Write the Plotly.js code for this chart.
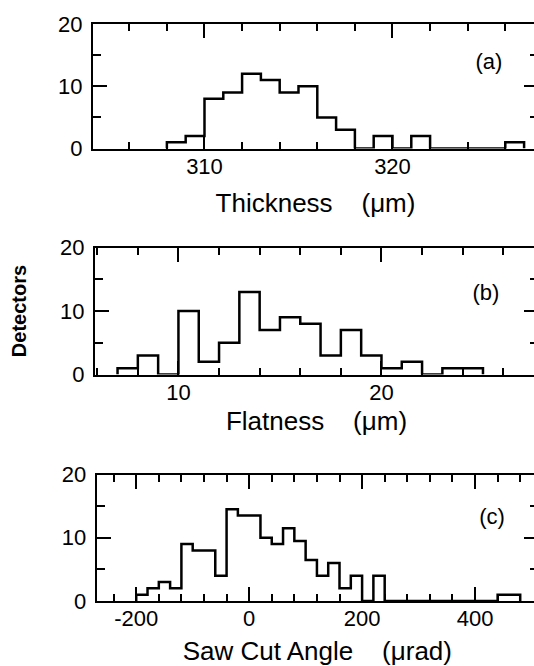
<!DOCTYPE html>
<html>
<head>
<meta charset="utf-8">
<script src="https://cdn.plot.ly/plotly-3.0.1.min.js"></script>
<style>
html,body{margin:0;padding:0;overflow:hidden;background:#fff;}
.panel{position:absolute;left:0;width:540px;height:222px;}
#pa{top:0;} #pb{top:222px;} #pc{top:444px;}
</style>
</head>
<body>
<div id="pa" class="panel"></div>
<div id="pb" class="panel"></div>
<div id="pc" class="panel"></div>
<script>
// ---- data ----
// (a) Thickness (um), bin width 1
const thicknessBins   = [308,309,310,311,312,313,314,315,316,317,318,319,320,321,322,323,324,325,326];
const thicknessCounts = [1,2,8,9,12,11,9,10,5,3,0,2,0,2,0,0,0,0,1];
const thicknessWidth  = 1;
// (b) Flatness (um), bin width 1
const flatnessBins   = [7,8,9,10,11,12,13,14,15,16,17,18,19,20,21,22,23,24];
const flatnessCounts = [1,3,0,10,2,5,13,7,9,8,3,7,3,1,2,0,1,1];
const flatnessWidth  = 1;
// (c) Saw cut angle (urad), bin width 20
const angleBins   = [-200,-180,-160,-140,-120,-100,-80,-60,-40,-20,0,20,40,60,80,100,120,140,160,180,200,220,240,260,280,300,320,340,360,380,400,420,440,460];
const angleCounts = [1,2,3,2,9,8,8,4,14.5,13.5,13.5,10,9,11.5,9.5,6.5,4,6,2,4,0,4,0,0,0,0,0,0,0,0,0,0,1,1];
const angleWidth  = 20;

// tick labels for the angle axis (hyphen minus, as in the reference)
const angleTickVals = [-200,0,200,400];
const angleTickText = ['-200','0','200','400'];

const panelLabels = ['(a)','(b)','(c)'];
const xTitles = ['Thickness\u00A0\u00A0\u00A0\u00A0(\u03BCm)','Flatness\u00A0\u00A0\u00A0\u00A0(\u03BCm)','Saw Cut Angle\u00A0\u00A0\u00A0\u00A0(\u03BCrad)'];
const yTitle = 'Detectors';

// ---- helpers ----
function stepXY(bins, counts, w){
  const xs=[bins[0]], ys=[0];
  for(let i=0;i<bins.length;i++){ xs.push(bins[i]); ys.push(counts[i]); }
  xs.push(bins[bins.length-1]+w); ys.push(0);
  return {xs, ys};
}
const W=540, PH=222, RIGHT=538;

function drawPanel(divId, top, bins, counts, w, cfg){
  const s = stepXY(bins, counts, w);
  const py = p => 1 - (p - top)/PH;           // page pixel -> paper fraction of this panel
  const xaxis = Object.assign({
    domain:[cfg.left/W, RIGHT/W], range:cfg.range, anchor:'y',
    dtick:cfg.dtick, tick0:0,
    showline:true, linewidth:2, linecolor:'#000', mirror:'ticks',
    ticks:'inside', ticklen:14, tickwidth:1.5, tickcolor:'#000',
    minor:{tickmode:'linear', dtick:cfg.minor, tick0:0, ticks:'inside', ticklen:7, tickwidth:1.5, tickcolor:'#000'},
    showgrid:false, zeroline:false,
    ticklabelstandoff:-3,
    title:{text:cfg.title, standoff:cfg.titleStandoff}
  }, cfg.xextra||{});
  const yaxis = {
    domain:[py(cfg.bottom), py(cfg.top)], range:[0,20], anchor:'x', dtick:10, tick0:0,
    showline:true, linewidth:2, linecolor:'#000', mirror:'ticks',
    ticks:'inside', ticklen:14, tickwidth:1.5, tickcolor:'#000',
    minor:{tickmode:'linear', dtick:5, tick0:0, ticks:'inside', ticklen:8, tickwidth:1.5, tickcolor:'#000'},
    showgrid:false, zeroline:false,
    ticklabelstandoff:4
  };
  if(cfg.ytitle){
    yaxis.title = {text:cfg.ytitle, standoff:28, font:{size:20, weight:'bold', color:'#000'}};
  }
  const layout = {
    width:W, height:PH, margin:{l:0,r:0,t:0,b:0}, showlegend:false,
    font:{family:'Liberation Sans, Arial, Helvetica, sans-serif', size:22, color:'#000'},
    title:{text:cfg.label, xref:'paper', yref:'paper', x:cfg.labelPos[0]/W, y:py(cfg.labelPos[1]),
           xanchor:'center', yanchor:'middle', font:{size:22, color:'#000'}},
    xaxis, yaxis
  };
  const trace = {x:s.xs, y:s.ys, mode:'lines', line:{color:'#000', width:2.5, shape:'hv'}, hoverinfo:'skip'};
  return Plotly.newPlot(divId, [trace], layout, {displayModeBar:false});
}

drawPanel('pa', 0, thicknessBins, thicknessCounts, thicknessWidth, {
  left:93, top:24, bottom:148.5, range:[304.07, 327.74], dtick:10, minor:2,
  label:panelLabels[0], labelPos:[489, 61], title:xTitles[0], titleStandoff:16
});
drawPanel('pb', 222, flatnessBins, flatnessCounts, flatnessWidth, {
  left:95, top:247.5, bottom:374.5, range:[5.89, 27.71], dtick:10, minor:2,
  label:panelLabels[1], labelPos:[486, 292], title:xTitles[1], titleStandoff:8,
  ytitle:yTitle
});
drawPanel('pc', 444, angleBins, angleCounts, angleWidth, {
  left:96.7, top:474.5, bottom:601, range:[-270, 511.5], dtick:200, minor:40,
  label:panelLabels[2], labelPos:[492, 516], title:xTitles[2], titleStandoff:11,
  xextra:{tickmode:'array', tickvals:angleTickVals, ticktext:angleTickText}
});
</script>
</body>
</html>
